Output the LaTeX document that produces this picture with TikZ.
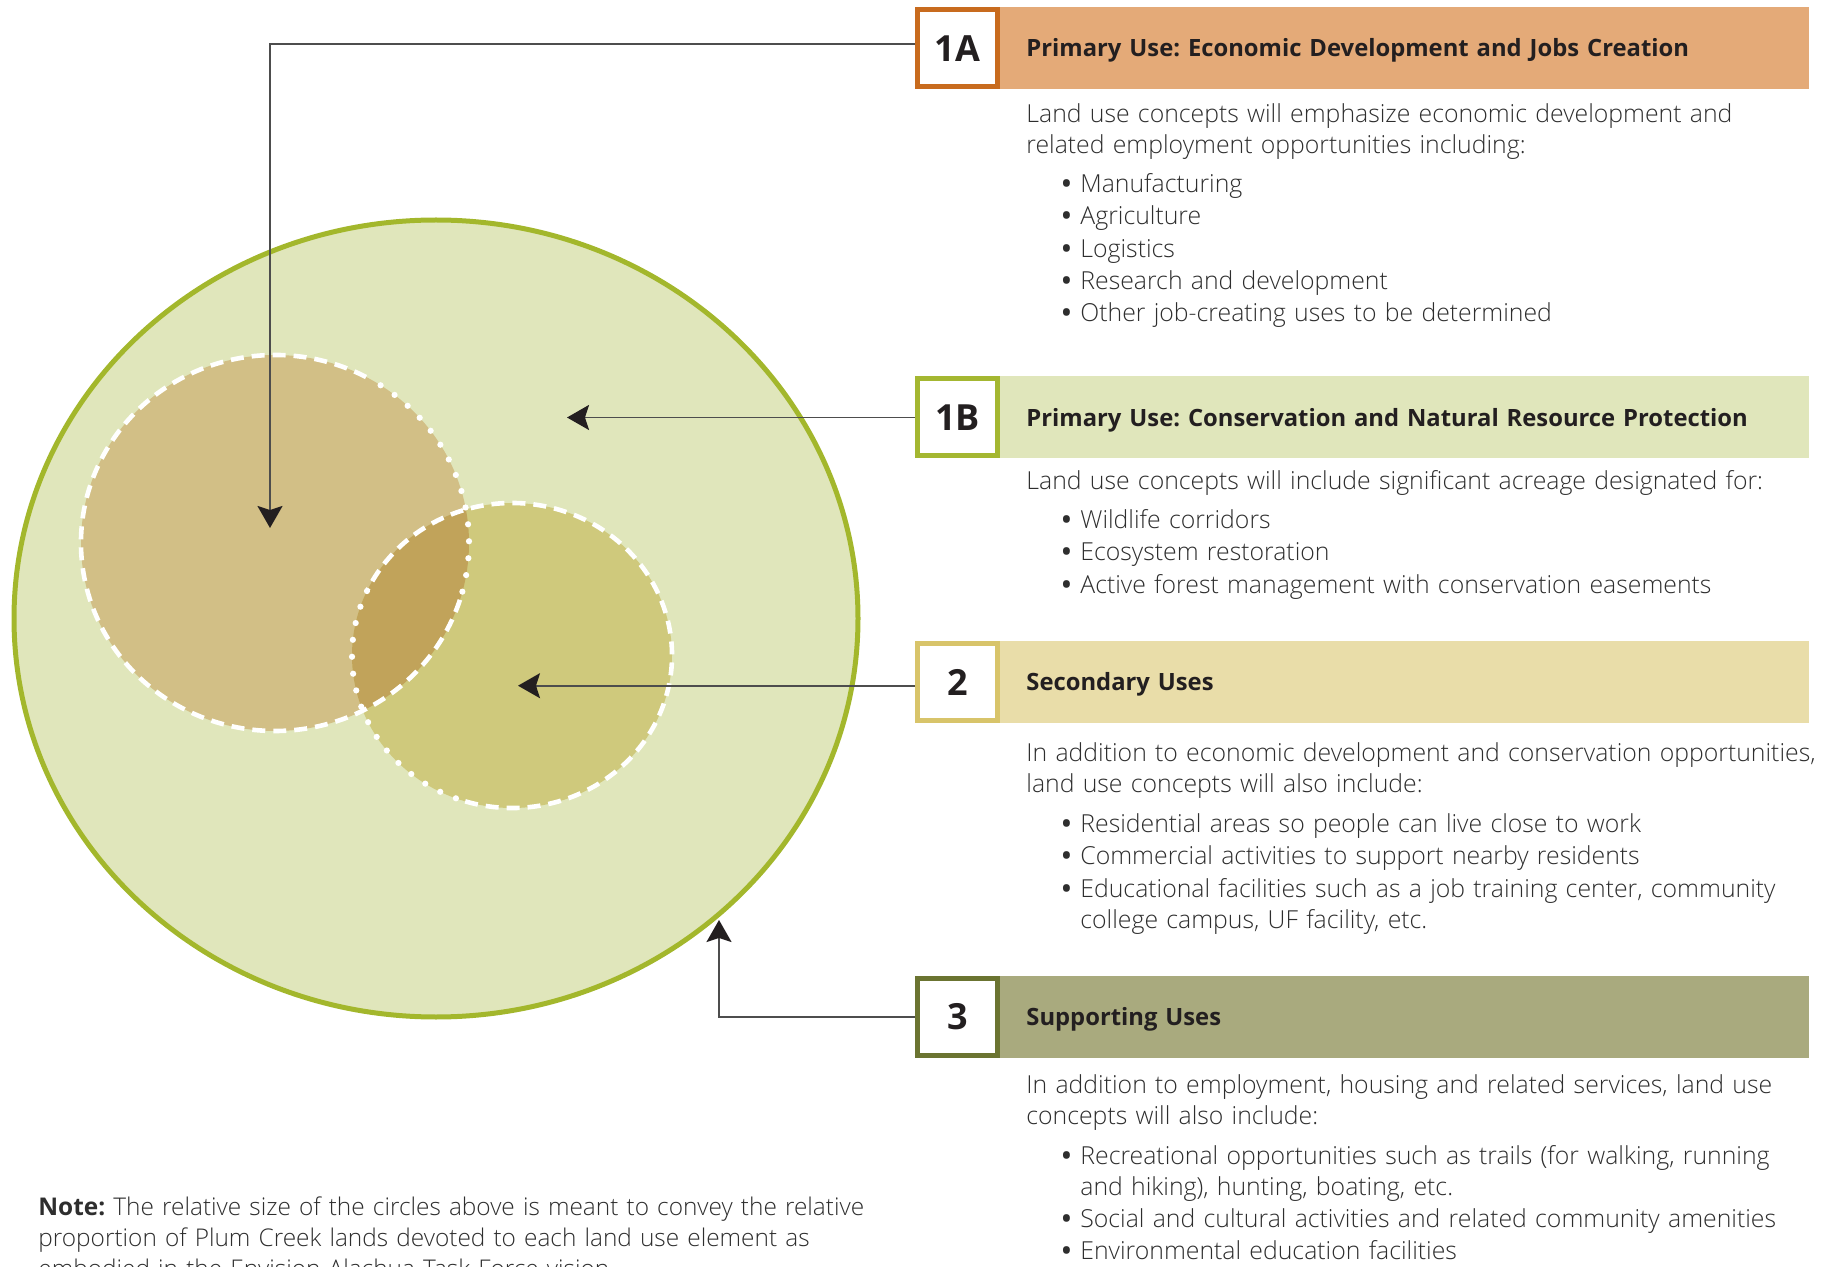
\documentclass[tikz,border=0pt]{standalone}
\usepackage{fontspec}
\setmainfont{Open Sans}[UprightFont=* Light,BoldFont=* Bold]
\usepackage{tikz}
\usetikzlibrary{positioning,arrows.meta}
\definecolor{orgline}{HTML}{C86B1E}
\definecolor{orgband}{HTML}{E4AA78}
\definecolor{grnline}{HTML}{A4B731}
\definecolor{grnband}{HTML}{E0E6BB}
\definecolor{goldline}{HTML}{D8C46A}
\definecolor{goldband}{HTML}{E9DDA9}
\definecolor{oliveline}{HTML}{6B7431}
\definecolor{oliveband}{HTML}{A9AA7E}
\definecolor{landfill}{HTML}{E0E6BB}
\definecolor{landline}{HTML}{A3B72C}
\definecolor{econfill}{HTML}{D2BF86}
\definecolor{secfill}{HTML}{CFC97C}
\definecolor{lensfill}{HTML}{C1A35A}
\definecolor{connline}{HTML}{4D4D4D}
\definecolor{tipdark}{HTML}{231F20}
\definecolor{txtbody}{HTML}{2E2E2E}
\tikzstyle{numbox}=[draw,fill=white,line width=2.5pt,minimum width=40pt,minimum height=38.5pt,inner sep=0pt,text height=12.85pt,text depth=0pt,font=\fontsize{18}{20}\selectfont\bfseries,text=tipdark]
\tikzstyle{band}=[anchor=west,minimum height=41pt,inner xsep=13pt,inner ysep=0pt,text width=378.5pt,align=left,text height=8.7pt,text depth=0pt,font=\fontsize{11.9}{14}\selectfont\bfseries,text=tipdark]
\tikzstyle{bodytext}=[anchor=north west,inner sep=0pt,text width=450pt,align=left,font={\fontsize{12.4}{15.5}\selectfont\parindent=0pt},text=txtbody]
\tikzstyle{notetext}=[bodytext,font={\fontsize{12.2}{15.5}\selectfont\parindent=0pt}]
\tikzstyle{dashrim}=[draw=white,line width=2.3pt,dash pattern=on 6.5pt off 4pt]
\tikzstyle{dotrim}=[draw=white,line width=3.1pt,line cap=round,dash pattern=on 0pt off 8.5pt]
\tikzstyle{conn}=[draw=connline,line width=0.9pt,-{Stealth[length=11pt,width=12.5pt,inset=2pt,color=tipdark]}]
\newcommand{\bgap}{\par\vspace{3.65pt}}
\newcommand{\bitem}[1]{\par\vspace{0.65pt}{\leftskip=27pt\noindent\llap{\textbf{\textbullet}\hspace{4.6pt}}#1\par}}

\begin{document}
\frenchspacing
\begin{tikzpicture}[x=0.5pt,y=0.5pt]
\clip (0,0) rectangle (1827,1266);
% land area and the two use circles
\coordinate (land) at (436,647.5);
\coordinate (econ) at (275,723);
\coordinate (sec) at (512,610.5);
\fill[landfill] (land) ellipse [x radius=211pt, y radius=199.25pt];
\draw[landline, line width=2.5pt] (land) ellipse [x radius=211pt, y radius=199.25pt];
\fill[econfill] (econ) ellipse [x radius=97pt, y radius=94pt];
\fill[secfill] (sec) ellipse [x radius=80pt, y radius=76.25pt];
\begin{scope}
\clip (econ) ellipse [x radius=97pt, y radius=94pt];
\fill[lensfill] (sec) ellipse [x radius=80pt, y radius=76.25pt];
\end{scope}
\draw[dashrim] (econ) ++(62:97pt and 94pt) arc [start angle=62, end angle=345, x radius=97pt, y radius=94pt];
\draw[dotrim] (econ) ++(-15:97pt and 94pt) arc [start angle=-15, end angle=62, x radius=97pt, y radius=94pt];
\draw[dashrim] (sec) ++(253:80pt and 76.25pt) arc [start angle=253, end angle=515, x radius=80pt, y radius=76.25pt];
\draw[dotrim] (sec) ++(155:80pt and 76.25pt) arc [start angle=155, end angle=253, x radius=80pt, y radius=76.25pt];
\coordinate (tip1a) at (270,738);
\coordinate (tip1b) at (567,850);
\coordinate (tip2) at (518,582);
\coordinate (tip3) at (719,346);

% headings
\node[band,fill=orgband] (h1a) at (1000,1217.7) {Primary Use: Economic Development and Jobs Creation};
\node[numbox,draw=orgline,left=0pt of h1a] (n1a) {1A};
\node[band,fill=grnband] (h1b) at (1000,848.5) {Primary Use: Conservation and Natural Resource Protection};
\node[numbox,draw=grnline,left=0pt of h1b] (n1b) {1B};
\node[band,fill=goldband] (h2) at (1000,583.7) {Secondary Uses};
\node[numbox,draw=goldline,left=0pt of h2] (n2) {2};
\node[band,fill=oliveband] (h3) at (1000,249) {Supporting Uses};
\node[numbox,draw=oliveline,left=0pt of h3] (n3) {3};

% descriptions
\node[bodytext] (b1a) at (1026,1166) {\strut Land use concepts will emphasize economic development and\\
related employment opportunities including:\bgap
\bitem{Manufacturing}
\bitem{Agriculture}
\bitem{Logistics}
\bitem{Research and development}
\bitem{Other job-creating uses to be determined}};
\node[bodytext] (b1b) at (1026,799) {\strut Land use concepts will include significant acreage designated for:\bgap
\bitem{Wildlife corridors}
\bitem{Ecosystem restoration}
\bitem{Active forest management with conservation easements}};
\node[bodytext] (b2) at (1026,526.3) {\strut In addition to economic development and conservation opportunities,\\
land use concepts will also include:\bgap
\bitem{Residential areas so people can live close to work}
\bitem{Commercial activities to support nearby residents}
\bitem{Educational facilities such as a job training center, community\\ college campus, UF facility, etc.}};
\node[bodytext] (b3) at (1026,194.4) {\strut In addition to employment, housing and related services, land use\\
concepts will also include:\bgap
\bitem{Recreational opportunities such as trails (for walking, running\\ and hiking), hunting, boating, etc.}
\bitem{Social and cultural activities and related community amenities}
\bitem{Environmental education facilities}};
\node[notetext] (note) at (38,72.7) {\strut\textbf{Note:} The relative size of the circles above is meant to convey the relative\\
proportion of Plum Creek lands devoted to each land use element as\\
embodied in the Envision Alachua Task Force vision.};

% connectors
\coordinate (c1a) at ([yshift=2.2pt]n1a.west);
\coordinate (c2) at ([yshift=-1.7pt]n2.west);
\draw[conn] (c1a) -| (tip1a);
\draw[conn] (n1b.west) -- (tip1b |- n1b.west);
\draw[conn] (c2) -- (tip2 |- c2);
\draw[conn] (n3.west) -| (tip3);
\end{tikzpicture}
\end{document}
